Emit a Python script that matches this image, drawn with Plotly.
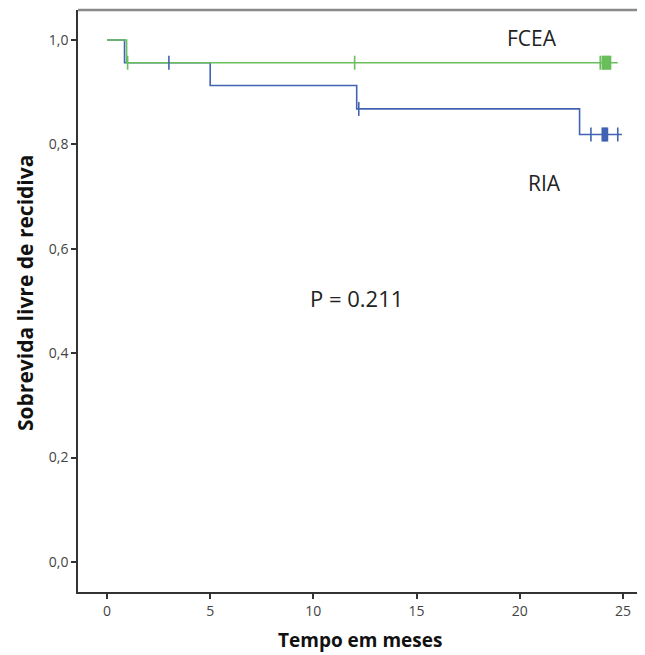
import plotly.graph_objects as go

# Kaplan-Meier step data (time in months, survival)
fcea_time = [0, 0.95, 24.75]
fcea_surv = [1.0, 0.9565, 0.9565]
fcea_cens_time = [1.0, 12.0, 23.9, 24.0, 24.05, 24.1, 24.15, 24.2, 24.25, 24.3, 24.35, 24.4]

ria_time = [0, 0.85, 5.0, 12.1, 22.9, 24.95]
ria_surv = [1.0, 0.9565, 0.913, 0.868, 0.819, 0.819]
ria_cens_time = [3.0, 12.2, 23.45, 24.0, 24.05, 24.1, 24.15, 24.2, 24.25, 24.75]

x_ticks = [0, 5, 10, 15, 20, 25]
y_ticks = [0.0, 0.2, 0.4, 0.6, 0.8, 1.0]

GREEN = "#6abf5c"
BLUE = "#4262b2"


def surv_at(times, survs, t):
    s = survs[0]
    for ti, si in zip(times, survs):
        if t >= ti:
            s = si
    return s


fig = go.Figure()
fig.add_trace(go.Scatter(x=ria_time, y=ria_surv, mode="lines",
                         line=dict(color=BLUE, width=1.6, shape="hv"),
                         hoverinfo="skip", showlegend=False))
fig.add_trace(go.Scatter(x=fcea_time, y=fcea_surv, mode="lines",
                         line=dict(color=GREEN, width=1.6, shape="hv"),
                         hoverinfo="skip", showlegend=False))
fig.add_trace(go.Scatter(x=ria_cens_time,
                         y=[surv_at(ria_time, ria_surv, t) for t in ria_cens_time],
                         mode="markers",
                         marker=dict(symbol="line-ns", size=10,
                                     line=dict(color=BLUE, width=1.6)),
                         showlegend=False))
fig.add_trace(go.Scatter(x=fcea_cens_time,
                         y=[surv_at(fcea_time, fcea_surv, t) for t in fcea_cens_time],
                         mode="markers",
                         marker=dict(symbol="line-ns", size=10,
                                     line=dict(color=GREEN, width=1.6)),
                         showlegend=False))

fig.add_annotation(x=20.6, y=1.004, text="FCEA", showarrow=False,
                   font=dict(family="Open Sans", size=21, color="#222"))
fig.add_annotation(x=21.2, y=0.726, text="RIA", showarrow=False,
                   font=dict(family="Open Sans", size=21, color="#222"))
fig.add_annotation(x=12.1, y=0.506, text="P = 0.211", showarrow=False,
                   font=dict(family="Open Sans", size=22, color="#222"))

# axis titles
fig.add_annotation(xref="paper", yref="paper", x=(360 - 78) / 567, y=0,
                   yshift=-48, yanchor="middle", showarrow=False,
                   text="<b>Tempo em meses</b>",
                   font=dict(family="Open Sans", size=19, color="#111"))
fig.add_annotation(xref="paper", yref="paper", x=0, xshift=-53,
                   y=(592 - 293) / 582, textangle=-90, xanchor="center",
                   showarrow=False, text="<b>Sobrevida livre de recidiva</b>",
                   font=dict(family="Open Sans", size=21, color="#111"))

fig.add_shape(type="line", xref="paper", yref="paper", x0=0, x1=1, y0=1, y1=1,
              line=dict(color="#8a8a8a", width=2.5))

# page body has an 8px default margin, so the figure is sized to fit inside
fig.update_layout(
    width=637, height=647,
    margin=dict(l=70, r=0, t=2, b=63),
    plot_bgcolor="white", paper_bgcolor="white",
    separators=",.",
    font=dict(family="Open Sans", color="#444"),
    xaxis=dict(range=[-1.405, 26.07], tickvals=x_ticks, showgrid=False,
               zeroline=False, showline=True, linecolor="#333", linewidth=1.5,
               ticks="outside", ticklen=5, tickwidth=1.5, tickcolor="#333",
               tickfont=dict(size=14, color="#444"), automargin=False),
    yaxis=dict(range=[-0.0575, 1.0575], tickvals=y_ticks, tickformat=".1f",
               showgrid=False, zeroline=False, showline=True, linecolor="#333",
               linewidth=1.5, ticks="outside", ticklen=5, tickwidth=1.5,
               tickcolor="#333", tickfont=dict(size=14, color="#444"),
               automargin=False),
)

fig.write_html("out.html")
